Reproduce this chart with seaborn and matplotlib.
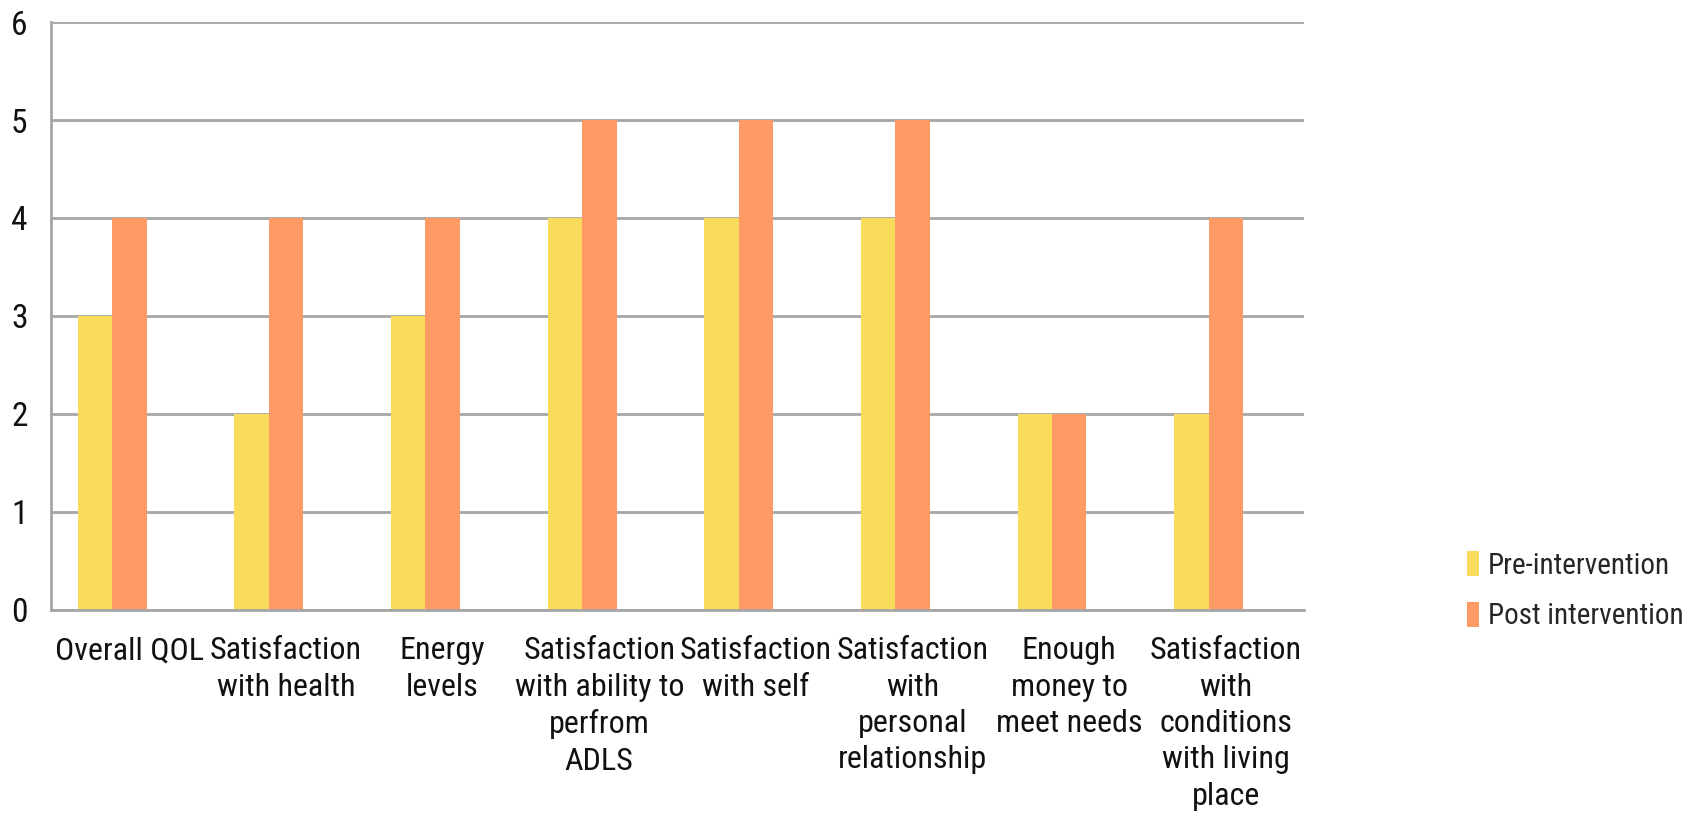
import matplotlib
matplotlib.use("Agg")
import matplotlib.pyplot as plt
import matplotlib.patches as mpatches
import seaborn as sns
import pandas as pd
import numpy as np

categories = [
    "Overall QOL",
    "Satisfaction\nwith health",
    "Energy\nlevels",
    "Satisfaction\nwith ability to\nperfrom\nADLS",
    "Satisfaction\nwith self",
    "Satisfaction\nwith\npersonal\nrelationship",
    "Enough\nmoney to\nmeet needs",
    "Satisfaction\nwith\nconditions\nwith living\nplace",
]
pre_values = [3, 2, 3, 4, 4, 4, 2, 2]
post_values = [4, 4, 4, 5, 5, 5, 2, 4]
series_names = ["Pre-intervention", "Post intervention"]
series_colors = ["#F9DC5C", "#FD9A66"]
y_ticks = [0, 1, 2, 3, 4, 5, 6]

df = pd.DataFrame({
    "category": categories * 2,
    "value": pre_values + post_values,
    "series": [series_names[0]] * len(categories) + [series_names[1]] * len(categories),
})

sns.set_theme(style="white")
plt.rcParams["font.family"] = ["Roboto Condensed", "Liberation Sans", "DejaVu Sans"]

fig = plt.figure(figsize=(16.94, 8.18), dpi=100)
ax = fig.add_axes([0.0301, 0.2543, 0.7398, 0.7188])

# a third, empty slot keeps the two bars to the left of each category centre
hue_levels = series_names + ["_spare"]
palette = {series_names[0]: series_colors[0], series_names[1]: series_colors[1], "_spare": "white"}
sns.barplot(data=df, x="category", y="value", hue="series", hue_order=hue_levels,
            palette=palette, width=0.66, saturation=1, ax=ax, legend=False,
            order=categories, linewidth=0, edgecolor="none")

ax.set_xlim(-0.5, len(categories) - 0.5)
ax.set_ylim(0, 6)
ax.set_yticks(y_ticks)
ax.set_yticklabels([str(t) for t in y_ticks], fontsize=24)
ax.set_xlabel("")
ax.set_ylabel("")

grid_color = "#A6A6A6"
ax.grid(axis="y", color=grid_color, linewidth=2)
ax.set_axisbelow(True)
for side in ["top", "right"]:
    ax.spines[side].set_visible(False)
for side in ["left", "bottom"]:
    ax.spines[side].set_color(grid_color)
    ax.spines[side].set_linewidth(2)

# category labels centred, ticks on category boundaries
ax.set_xticks(np.arange(len(categories)))
ax.set_xticklabels(categories, fontsize=23, linespacing=1.32, ha="center", va="top")
ax.tick_params(axis="x", length=0, pad=19)
ax.set_xticks(np.arange(len(categories) + 1) - 0.5, minor=True)
ax.tick_params(axis="x", which="minor", length=10, width=2, color=grid_color, direction="out")
ax.tick_params(axis="y", length=8, width=2, color=grid_color, direction="out", pad=9)
ax.tick_params(axis="both", labelcolor="#111111")

handles = [mpatches.Rectangle((0, 0), 1, 1, facecolor=c, edgecolor="none") for c in series_colors]
fig.legend(handles, series_names, loc="center left", bbox_to_anchor=(0.866, 0.278),
           frameon=False, fontsize=21, handlelength=0.42, handleheight=0.95,
           handletextpad=0.3, labelspacing=0.75, borderaxespad=0, borderpad=0)

fig.savefig("out.png", dpi=100)
